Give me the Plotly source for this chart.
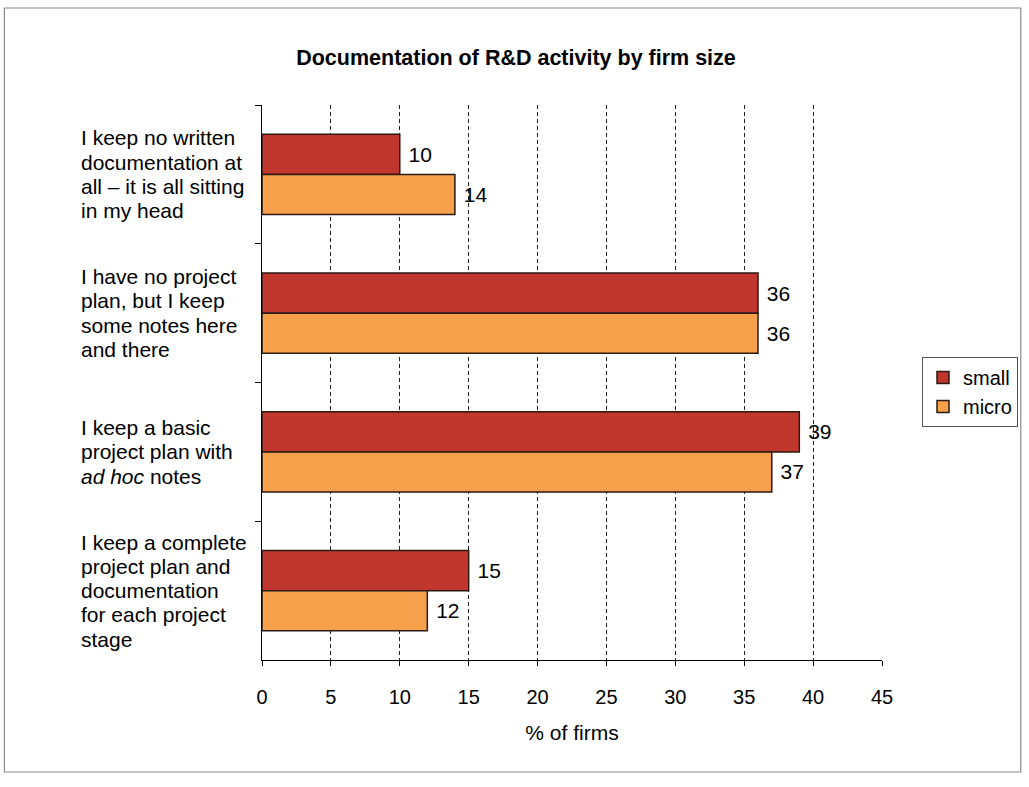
import plotly.graph_objects as go

# Response categories (top to bottom), one entry per printed line
category_lines = [
    ["I keep no written", "documentation at", "all – it is all sitting", "in my head"],
    ["I have no project", "plan, but I keep", "some notes here", "and there"],
    ["I keep a basic", "project plan with", "<i>ad hoc</i> notes"],
    ["I keep a complete", "project plan and", "documentation", "for each project", "stage"],
]
categories = ["<br>".join(lines) for lines in category_lines]
small_pct = [10, 36, 39, 15]
micro_pct = [14, 36, 37, 12]
x_ticks = [0, 5, 10, 15, 20, 25, 30, 35, 40, 45]

FONT = "Arial, Liberation Sans, sans-serif"
SMALL_COLOR = "#C1372D"
MICRO_COLOR = "#F6A04B"
EDGE = "#2a1a12"

# plot-area geometry in pixels, used to place paper-referenced extras
W, H = 1029, 787
L, R, T, B = 262, 146, 105, 127
pw, ph = W - L - R, H - T - B


def px_x(px):
    return (px - L) / pw


def px_y(py):
    return (H - B - py) / ph


fig = go.Figure()
for name, vals, color in (("small", small_pct, SMALL_COLOR),
                          ("micro", micro_pct, MICRO_COLOR)):
    fig.add_trace(go.Bar(
        name=name, y=categories, x=vals, orientation="h",
        marker=dict(color=color, line=dict(color=EDGE, width=1.5)),
        text=vals, texttemplate=" %{x}", textposition="outside",
        textfont=dict(size=21, color="black", family=FONT), cliponaxis=False,
    ))

# left-aligned category labels, one annotation per line with tight leading
LINE_H = 24.3
for cat, lines in zip(categories, category_lines):
    n = len(lines)
    for i, line in enumerate(lines):
        fig.add_annotation(
            x=px_x(79), xref="paper", y=cat, yref="y",
            yshift=((n - 1) / 2 - i) * LINE_H,
            text=line, showarrow=False, xanchor="left", yanchor="middle",
            align="left", font=dict(size=21, color="black", family=FONT),
        )

# outer chart frame
fig.add_shape(
    type="rect", xref="paper", yref="paper",
    x0=px_x(4), x1=px_x(1022), y0=px_y(772), y1=px_y(8),
    line=dict(color="#8a8a8a", width=1.2), fillcolor="rgba(0,0,0,0)",
    layer="below",
)

fig.update_layout(
    width=W, height=H,
    margin=dict(l=L, r=R, t=T, b=B),
    paper_bgcolor="white", plot_bgcolor="white",
    barmode="group", bargap=0.42, bargroupgap=0,
    font=dict(family=FONT, color="black", size=20),
    title=dict(
        text="<b>Documentation of R&D activity by firm size</b>",
        x=516 / W, xanchor="center", y=1 - 57 / H, yanchor="middle",
        font=dict(size=21.5, family=FONT, color="black"),
    ),
    xaxis=dict(
        range=[0, 45], tickvals=x_ticks, ticktext=[str(t) for t in x_ticks],
        showgrid=True, gridcolor="#222", griddash="4px,3px", gridwidth=1,
        showline=True, linecolor="black", linewidth=1.2,
        ticks="outside", ticklen=5, tickcolor="black",
        ticklabelstandoff=14,
        tickfont=dict(size=20, family=FONT), zeroline=False,
        title=dict(text="% of firms", font=dict(size=21, family=FONT), standoff=18),
    ),
    yaxis=dict(
        autorange="reversed", showticklabels=False,
        showline=True, linecolor="black", linewidth=1.2,
        ticks="outside", ticklen=6, tickcolor="black", tickson="boundaries",
        showgrid=False, zeroline=False,
    ),
    legend=dict(
        x=px_x(922), y=px_y(392), xanchor="left", yanchor="middle",
        bordercolor="#555", borderwidth=1, bgcolor="white",
        font=dict(size=20, family=FONT), traceorder="normal",
        itemwidth=30,
    ),
    showlegend=True,
)

fig.write_html("out.html")
